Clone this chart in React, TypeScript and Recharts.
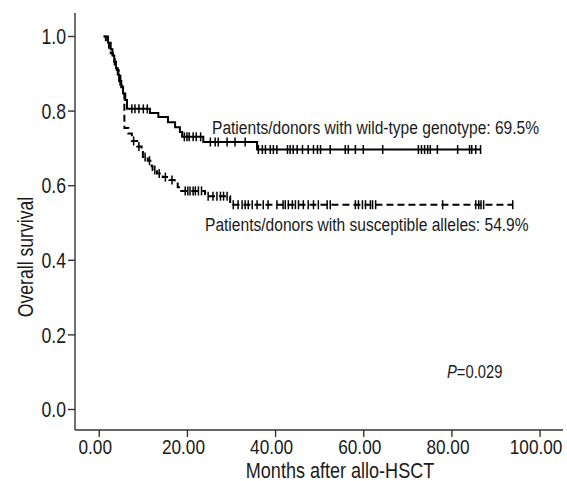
import React from 'react';
import { LineChart, Line, XAxis, YAxis } from 'recharts';

const FONT = '"Liberation Sans", Arial, Helvetica, sans-serif';
const NARROW = 0.82;

const xTicks = [0, 20, 40, 60, 80, 100];
const yTicks = [0, 0.2, 0.4, 0.6, 0.8, 1.0];

// Patients/donors with wild-type genotype (solid): [months, survival] at each event step
const wildTypeSteps: [number, number][] = [
  [1.0, 1.0], [2.0, 0.983], [2.6, 0.966], [3.0, 0.949], [3.4, 0.932], [3.8, 0.915],
  [4.2, 0.898], [4.5, 0.881], [5.0, 0.864], [5.4, 0.847], [5.9, 0.83], [6.3, 0.806],
  [11.5, 0.795], [13.4, 0.784], [15.6, 0.77], [17.2, 0.757], [18.3, 0.744], [18.8, 0.731],
  [23.6, 0.717], [35.8, 0.697],
];
const wildTypeCensored: number[] = [
  4.7, 7.4, 8.1, 9.0, 10.0, 10.9,
  19.3, 19.9, 20.4, 21.3, 22.0, 23.0,
  25.2, 26.3, 27.0, 29.0, 30.8, 33.1,
  36.1, 37.0, 37.7, 38.8, 39.5, 40.3, 42.7, 43.3, 44.0, 44.9, 46.1, 47.4, 48.6, 49.5,
  50.2, 52.4, 55.8, 56.5, 58.1, 59.9, 64.3, 72.4, 73.1, 73.8, 74.5, 75.1, 76.7, 81.3,
  84.0, 84.5, 85.4, 86.5,
];

// Patients/donors with susceptible alleles (dashed)
const susceptibleSteps: [number, number][] = [
  [1.0, 1.0], [1.5, 0.985], [2.2, 0.97], [2.6, 0.955], [3.1, 0.94], [3.5, 0.925],
  [4.0, 0.91], [4.4, 0.895], [4.8, 0.88], [5.1, 0.865], [5.4, 0.85], [5.7, 0.755],
  [6.6, 0.74], [7.4, 0.72], [8.6, 0.705], [9.6, 0.69], [9.9, 0.677], [11.0, 0.667],
  [11.9, 0.652], [12.1, 0.642], [13.1, 0.633], [14.4, 0.623], [15.9, 0.615], [17.1, 0.606],
  [17.8, 0.596], [18.6, 0.586], [24.0, 0.572], [29.7, 0.549],
];
const susceptibleCensored: number[] = [
  7.8, 9.0, 10.4, 11.4, 12.6, 13.6, 15.0, 16.5,
  19.5, 20.1, 20.6, 21.3, 21.8, 22.5, 23.2,
  24.7, 25.8, 26.7, 27.5, 28.2, 29.0,
  30.4, 31.5, 32.4, 33.1, 33.8, 34.7, 35.8, 37.2, 38.3, 40.3, 41.7, 42.2, 42.9, 43.8,
  44.5, 45.2, 46.3, 47.4, 48.6, 49.7, 51.7, 52.4, 58.1, 58.8, 59.7, 60.4, 61.5, 62.0,
  62.7, 77.9, 85.4, 86.1, 86.6, 87.2, 93.8,
];

const wildTypeLabel = 'Patients/donors with wild-type genotype: 69.5%';
const susceptibleLabel = 'Patients/donors with susceptible alleles: 54.9%';
const xTitle = 'Months after allo-HSCT';
const yTitle = 'Overall survival';

type Pt = { t: number; s: number; c: boolean };

function buildSeries(steps: [number, number][], censored: number[]): Pt[] {
  const pts: Pt[] = steps.map(([t, s]) => ({ t, s, c: false }));
  censored.forEach((t) => {
    let s = steps[0][1];
    for (const [st, sv] of steps) if (st <= t) s = sv;
    pts.push({ t, s, c: true });
  });
  pts.sort((a, b) => a.t - b.t || (a.c ? 1 : 0) - (b.c ? 1 : 0));
  return pts;
}

const wildData = buildSeries(wildTypeSteps, wildTypeCensored);
const suscData = buildSeries(susceptibleSteps, susceptibleCensored);

const W = 567;
const H = 481;
const PLOT_BOTTOM = 430;
const TEXT = '#1a1a1a';

const censorDot = (props: any) => {
  const { cx, cy, payload, index } = props;
  if (!payload || !payload.c) return <g key={`n${index}`} />;
  return (
    <line key={`c${index}`} x1={cx} x2={cx} y1={cy - 4.5} y2={cy + 4.5} stroke="#000" strokeWidth={1.5} />
  );
};

const NarrowText = ({ x, y, anchor, size, dy, children }: any) => (
  <text
    x={0}
    y={0}
    dy={dy}
    transform={`translate(${x}, ${y}) scale(${NARROW}, 1)`}
    textAnchor={anchor}
    fontFamily={FONT}
    fontSize={size}
    fill={TEXT}
  >
    {children}
  </text>
);

const XTick = (props: any) => {
  const { x, y, payload } = props;
  return (
    <NarrowText x={x - 4} y={y} anchor="middle" size={21} dy="0.71em">
      {Number(payload.value).toFixed(2)}
    </NarrowText>
  );
};

const YTick = (props: any) => {
  const { x, y, payload } = props;
  return (
    <NarrowText x={x} y={y} anchor="end" size={21.5} dy="0.355em">
      {Number(payload.value).toFixed(1)}
    </NarrowText>
  );
};

const axisStroke = { stroke: '#333', strokeWidth: 1.4 };

export default function App() {
  return (
    <div style={{ position: 'relative', width: W, height: H, background: '#fff' }}>
      <style>{'body{margin:0}'}</style>
      <LineChart width={W} height={H} margin={{ top: 13, right: 4, left: 0, bottom: 0 }}>
        <XAxis
          type="number"
          dataKey="t"
          domain={[-5.5, 105.2]}
          allowDataOverflow
          ticks={xTicks}
          tick={<XTick />}
          tickSize={7}
          tickMargin={2}
          tickLine={axisStroke}
          axisLine={axisStroke}
          height={H - PLOT_BOTTOM}
          interval={0}
        />
        <XAxis
          xAxisId="top"
          orientation="top"
          type="number"
          domain={[-5.5, 105.2]}
          allowDataOverflow
          tick={false}
          tickLine={false}
          axisLine={axisStroke}
          height={0}
        />
        <YAxis
          type="number"
          domain={[-0.055, 1.063]}
          allowDataOverflow
          ticks={yTicks}
          tick={<YTick />}
          tickSize={7}
          tickMargin={2}
          tickLine={axisStroke}
          axisLine={axisStroke}
          width={75}
          interval={0}
        />
        <YAxis
          yAxisId="right"
          orientation="right"
          type="number"
          domain={[-0.055, 1.063]}
          allowDataOverflow
          tick={false}
          tickLine={false}
          axisLine={axisStroke}
          width={0}
        />
        <Line
          data={suscData}
          dataKey="s"
          type="stepAfter"
          stroke="#000"
          strokeWidth={2}
          strokeDasharray="7 4"
          dot={censorDot}
          activeDot={false}
          isAnimationActive={false}
        />
        <Line
          data={wildData}
          dataKey="s"
          type="stepAfter"
          stroke="#000"
          strokeWidth={2}
          dot={censorDot}
          activeDot={false}
          isAnimationActive={false}
        />
      </LineChart>
      <svg
        width={W}
        height={H}
        style={{ position: 'absolute', left: 0, top: 0, pointerEvents: 'none' }}
      >
        <NarrowText x={212} y={134} anchor="start" size={19}>{wildTypeLabel}</NarrowText>
        <NarrowText x={205} y={231} anchor="start" size={19}>{susceptibleLabel}</NarrowText>
        <NarrowText x={447} y={378} anchor="start" size={18}>
          <tspan fontStyle="italic">P</tspan>=0.029
        </NarrowText>
        <NarrowText x={340} y={478} anchor="middle" size={22}>{xTitle}</NarrowText>
        <g transform="translate(33, 257) rotate(-90)">
          <NarrowText x={0} y={0} anchor="middle" size={21.5}>{yTitle}</NarrowText>
        </g>
      </svg>
    </div>
  );
}
